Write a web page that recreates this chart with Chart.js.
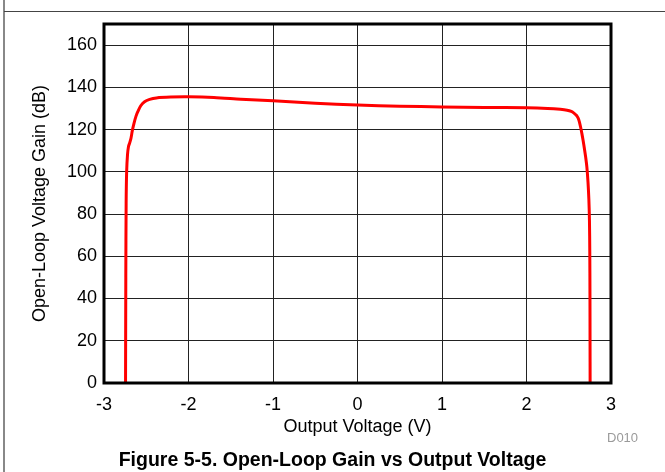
<!DOCTYPE html>
<html>
<head>
<meta charset="utf-8">
<script src="https://cdn.jsdelivr.net/npm/chart.js@4/dist/chart.umd.min.js"></script>
<style>
  body { margin: 0; background: #fff; }
  #wrap { position: relative; width: 665px; height: 472px; overflow: hidden; font-family: "Liberation Sans", Arial, sans-serif; }
  #frameV { position: absolute; left: 3px; top: 0; width: 2px; height: 472px; background: #888; }
  #frameH { position: absolute; left: 4px; top: 11px; width: 661px; height: 1px; background: #444; }
  #c { position: absolute; left: 0; top: 0; }
  #caption { position: absolute; left: 0; top: 447px; width: 665px; text-align: center; font-weight: bold; font-size: 19.5px; line-height: 24px; color: #000; }
  #code { position: absolute; left: 607px; top: 430px; font-size: 13px; line-height: 15px; color: #9a9a9a; }
</style>
</head>
<body>
<div id="wrap">
  <div id="frameV"></div>
  <div id="frameH"></div>
  <canvas id="c" width="665" height="472"></canvas>
  <div id="code">D010</div>
  <div id="caption">Figure 5-5. Open-Loop Gain vs Output Voltage</div>
</div>
<script>
// output voltage (V) and open-loop gain (dB)
var voltage = [-2.745, -2.742, -2.738, -2.732, -2.722, -2.71, -2.695, -2.68, -2.665, -2.645,
  -2.62, -2.60, -2.565, -2.52, -2.46, -2.38, -2.21, -2.0, -1.7, -1.38,
  -1.0, -0.5, 0, 0.5, 1.0, 1.5, 2.0, 2.25, 2.4, 2.48,
  2.53, 2.565, 2.59, 2.61, 2.625, 2.64, 2.655, 2.67, 2.685, 2.70,
  2.715, 2.728, 2.738, 2.745, 2.749, 2.751, 2.752, 2.753];
var gain = [0, 50, 85, 100, 108, 112, 113.8, 116, 119.5, 123,
  126.5, 128.5, 131.3, 133.2, 134.3, 135.0, 135.4, 135.5, 135.2, 134.4,
  133.6, 132.5, 131.6, 131.1, 130.7, 130.5, 130.3, 130.0, 129.6, 129.2,
  128.6, 127.7, 126.8, 125.5, 123.8, 121.2, 118.2, 114.8, 111, 107,
  102, 95, 87, 77, 62, 42, 20, 0];
var xTicks = [-3, -2, -1, 0, 1, 2, 3];
var yTicks = [0, 20, 40, 60, 80, 100, 120, 140, 160];

var FONT = '"Liberation Sans", Arial, sans-serif';

var points = [];
for (var i = 0; i < voltage.length; i++) {
  points.push({ x: voltage[i], y: gain[i] });
}

// thick black box round the plot area
var boxPlugin = {
  id: 'box',
  afterDraw: function(chart) {
    var a = chart.chartArea;
    var ctx = chart.ctx;
    ctx.save();
    ctx.strokeStyle = '#000';
    ctx.lineWidth = 3;
    ctx.strokeRect(a.left, a.top, a.right - a.left, a.bottom - a.top);
    ctx.restore();
  }
};

new Chart(document.getElementById('c'), {
  type: 'line',
  data: {
    datasets: [{
      data: points,
      borderColor: '#ff0000',
      borderWidth: 3,
      pointRadius: 0,
      tension: 0.3,
      fill: false
    }]
  },
  options: {
    responsive: false,
    animation: false,
    devicePixelRatio: 1,
    layout: { padding: { left: 0, top: 24, right: 54, bottom: 0 } },
    plugins: { legend: { display: false }, tooltip: { enabled: false } },
    scales: {
      x: {
        type: 'linear',
        min: xTicks[0],
        max: xTicks[xTicks.length - 1],
        afterBuildTicks: function(s) { s.ticks = xTicks.map(function(v) { return { value: v }; }); },
        afterFit: function(s) { s.height = 89; },
        ticks: { color: '#000', padding: 11, font: { family: FONT, size: 18 } },
        grid: { color: '#222', lineWidth: 1, drawTicks: false },
        border: { display: false },
        title: { display: true, text: 'Output Voltage (V)', color: '#000', padding: { top: 0, bottom: 34 }, font: { family: FONT, size: 18 } }
      },
      y: {
        min: 0,
        max: 170,
        afterBuildTicks: function(s) { s.ticks = yTicks.map(function(v) { return { value: v }; }); },
        afterFit: function(s) { s.width = 104; },
        ticks: { color: '#000', padding: 7, font: { family: FONT, size: 18 } },
        grid: { color: '#222', lineWidth: 1, drawTicks: false },
        border: { display: false },
        title: { display: true, text: 'Open-Loop Voltage Gain (dB)', color: '#000', padding: { top: 29, bottom: 0 }, font: { family: FONT, size: 18 } }
      }
    }
  },
  plugins: [boxPlugin]
});
</script>
</body>
</html>
